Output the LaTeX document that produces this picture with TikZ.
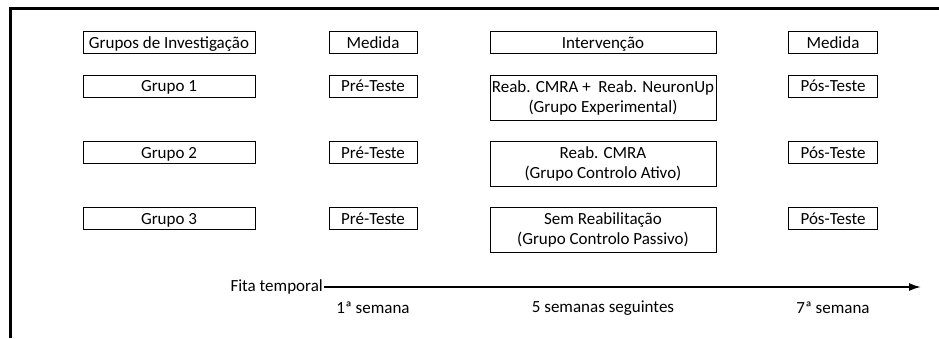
\documentclass[tikz,border=0pt]{standalone}
\usepackage{fontspec}
\setmainfont{Carlito}
\usetikzlibrary{arrows.meta}

\begin{document}
\begin{tikzpicture}[x=1pt, y=-1pt, font=\fontsize{17}{20}\selectfont,
    box/.style={rectangle, draw, line width=0.9pt, inner sep=0pt, align=center, minimum height=22pt, text height=13.5pt, text depth=2pt},
    twoline/.style={box, minimum height=45pt, text height=, text depth=}]
    \useasboundingbox (0,0) rectangle (939,338);
    % frame (cropped)
    \draw [line width=3pt] (10,338) -- (10,8) -- (939,8);

    % header row
    \node (grupos) at (169,42.5) [box, minimum width=172pt] {Grupos de Investigação};
    \node (medA) at (373,42.5) [box, minimum width=88pt] {Medida};
    \node (interv) at (603,42.5) [box, minimum width=226pt] {Intervenção};
    \node (medB) at (833,42.5) [box, minimum width=89pt] {Medida};

    % Grupo 1
    \node (g1) at (169,86) [box, minimum width=172pt] {Grupo 1};
    \node (pre1) at (373,86) [box, minimum width=88pt] {Pré-Teste};
    \node (reab1) at (603,97.5) [twoline, minimum width=226pt] {Reab. CMRA +\ \ Reab. NeuronUp\\(Grupo Experimental)};
    \node (pos1) at (833,86) [box, minimum width=89pt] {Pós-Teste};

    % Grupo 2
    \node (g2) at (169,152.5) [box, minimum width=172pt] {Grupo 2};
    \node (pre2) at (373,152.5) [box, minimum width=88pt] {Pré-Teste};
    \node (reab2) at (603,163.5) [twoline, minimum width=226pt] {Reab. CMRA\\(Grupo Controlo Ativo)};
    \node (pos2) at (833,152.5) [box, minimum width=89pt] {Pós-Teste};

    % Grupo 3
    \node (g3) at (169,218.5) [box, minimum width=172pt] {Grupo 3};
    \node (pre3) at (373,218.5) [box, minimum width=88pt] {Pré-Teste};
    \node (reab3) at (603,229.5) [twoline, minimum width=226pt] {Sem Reabilitação\\(Grupo Controlo Passivo)};
    \node (pos3) at (833,218.5) [box, minimum width=89pt] {Pós-Teste};

    % time line
    \node (fita) at (324,287) [anchor=east, inner sep=1pt] {Fita temporal};
    \coordinate (fim) at (921,287);
    \draw [-{Latex[length=12pt, width=8pt]}, line width=1.8pt] (fita) -- (fim);

    \node (sem1) at (373,308) {1ª semana};
    \node (sem5) at (603,308) {5 semanas seguintes};
    \node (sem7) at (833,308) {7ª semana};
\end{tikzpicture}
\end{document}
